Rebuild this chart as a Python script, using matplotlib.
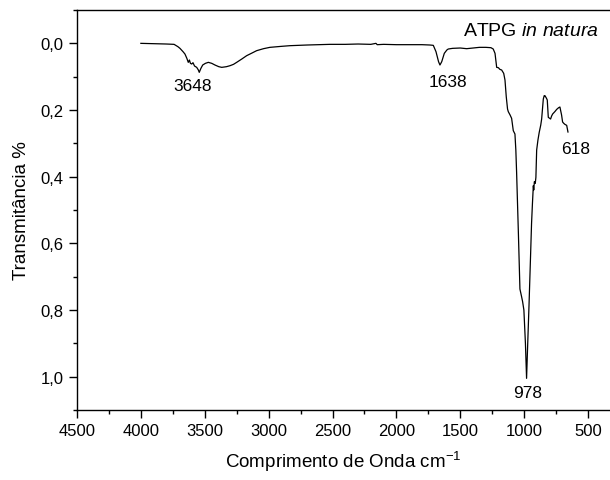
import matplotlib
matplotlib.use("Agg")
import matplotlib.pyplot as plt
from matplotlib.ticker import MultipleLocator, FuncFormatter

plt.rcParams['font.family'] = ['Liberation Sans', 'DejaVu Sans']
plt.rcParams['mathtext.fontset'] = 'custom'
plt.rcParams['mathtext.rm'] = 'Liberation Sans'
plt.rcParams['mathtext.it'] = 'Liberation Sans:italic'

# espectro (numero de onda cm-1, transmitancia)
numero_onda = [4000, 3900, 3800, 3740, 3710, 3694, 3670, 3655, 3640, 3629,
               3620, 3612, 3602, 3592, 3580, 3563, 3550, 3543, 3530, 3516,
               3495, 3472, 3445, 3420, 3390, 3367, 3330, 3302, 3275, 3250,
               3210, 3172, 3130, 3094, 3040, 2990, 2900, 2833, 2700, 2520,
               2400, 2300, 2200, 2160, 2150, 2100, 2000, 1900, 1800, 1737,
               1711, 1690, 1670, 1659, 1645, 1625, 1605, 1594, 1560, 1500,
               1450, 1400, 1350, 1300, 1260, 1242, 1228, 1215, 1202, 1190,
               1176, 1160, 1150, 1140, 1130, 1124, 1110, 1098, 1085, 1072,
               1065, 1059, 1045, 1033, 1020, 1012, 1002, 990, 981, 972,
               962, 950, 942, 935, 928, 925, 920, 913, 908, 902,
               892, 882, 870, 863, 850, 843, 837, 825, 819, 811,
               800, 793, 785, 777, 760, 745, 730, 720, 707, 699,
               690, 681, 667, 657]
transmitancia = [0.000, 0.001, 0.002, 0.003, 0.010, 0.015, 0.025, 0.032, 0.045, 0.057,
                 0.050, 0.060, 0.062, 0.058, 0.068, 0.072, 0.080, 0.087, 0.075, 0.065,
                 0.060, 0.057, 0.060, 0.065, 0.070, 0.072, 0.070, 0.067, 0.063, 0.057,
                 0.047, 0.037, 0.029, 0.022, 0.016, 0.012, 0.009, 0.007, 0.005, 0.003,
                 0.003, 0.002, 0.003, 0.000, 0.004, 0.003, 0.004, 0.004, 0.004, 0.005,
                 0.006, 0.025, 0.055, 0.065, 0.055, 0.030, 0.020, 0.017, 0.015, 0.014,
                 0.016, 0.014, 0.012, 0.012, 0.013, 0.017, 0.030, 0.072, 0.073, 0.078,
                 0.080, 0.090, 0.110, 0.160, 0.197, 0.205, 0.215, 0.225, 0.262, 0.272,
                 0.320, 0.387, 0.570, 0.737, 0.760, 0.775, 0.800, 0.900, 1.005, 0.900,
                 0.787, 0.640, 0.540, 0.480, 0.427, 0.440, 0.415, 0.420, 0.402, 0.320,
                 0.290, 0.267, 0.245, 0.227, 0.167, 0.157, 0.157, 0.165, 0.170, 0.222,
                 0.225, 0.227, 0.218, 0.212, 0.205, 0.198, 0.193, 0.191, 0.215, 0.236,
                 0.240, 0.243, 0.246, 0.266]

# picos marcados
picos_texto = ['3648', '1638', '978', '618']
picos_x = [3592, 1600, 970, 595]
picos_y = [0.125, 0.115, 1.046, 0.314]

fig = plt.figure(figsize=(6.10, 4.81), dpi=100)
ax = fig.add_axes([0.1262, 0.1455, 0.8738, 0.8316])

ax.plot(numero_onda, transmitancia, color='black', linewidth=0.9)

for txt, px, py in zip(picos_texto, picos_x, picos_y):
    ax.text(px, py, txt, ha='center', va='center', fontsize=12.5)

ax.text(414, -0.04, 'ATPG $\\mathit{in\\ natura}$', ha='right', va='center', fontsize=14)

ax.set_xlim(4500, 328)
ax.set_ylim(1.1, -0.1)
ax.xaxis.set_major_locator(MultipleLocator(500))
ax.xaxis.set_minor_locator(MultipleLocator(250))
ax.yaxis.set_major_locator(MultipleLocator(0.2))
ax.yaxis.set_minor_locator(MultipleLocator(0.1))
ax.yaxis.set_major_formatter(FuncFormatter(lambda v, p: f"{v:.1f}".replace('.', ',').replace('-0,0', '0,0')))

ax.spines['right'].set_visible(False)
for s in ['left', 'bottom', 'top']:
    ax.spines[s].set_linewidth(1.0)
ax.tick_params(which='both', direction='out', top=False, right=False, labelsize=12)
ax.tick_params(which='major', length=5.5, width=1, pad=4)
ax.tick_params(which='minor', length=3, width=1)

ax.set_xlabel('Comprimento de Onda cm$^{-1}$', fontsize=13.5, labelpad=8)
ax.set_ylabel('Transmitância %', fontsize=13.5, labelpad=8)

fig.savefig('out.png', dpi=100)
